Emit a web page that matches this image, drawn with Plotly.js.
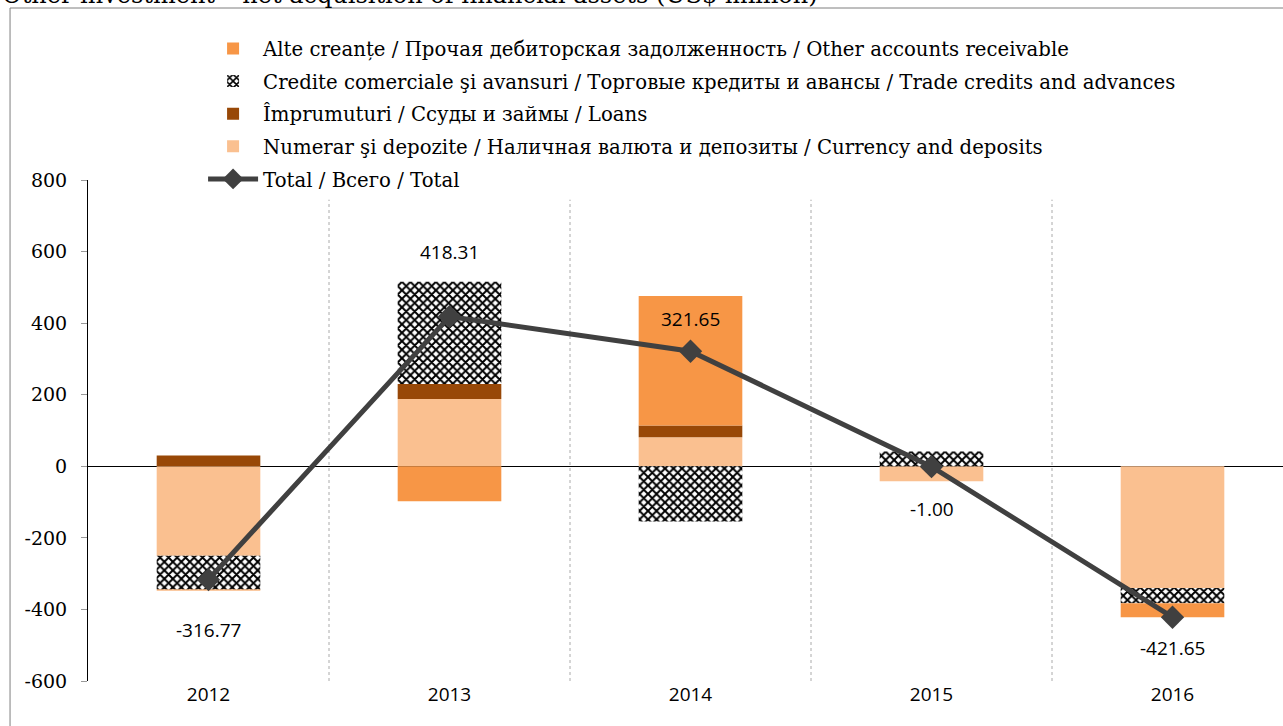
<!DOCTYPE html>
<html>
<head>
<meta charset="utf-8">
<script src="https://cdn.plot.ly/plotly-3.0.1.min.js"></script>
<style>
html,body{margin:0;padding:0;overflow:hidden;background:#fff;}
#chart{width:1300px;height:726px;}
</style>
</head>
<body>
<div id="chart"></div>
<script>
// ---- data ----
const years = ['2012', '2013', '2014', '2015', '2016'];
const currencyDeposits = [-250, 188, 81, -42, -340];
const loans = [30, 42, 33, 0, 0];
const tradeCredits = [-94, 286, -154, 41, -43];
const otherReceivable = [-3, -98, 362, 0, -39];
const total = [-316.77, 418.31, 321.65, -1.00, -421.65];
const totalLabels = ['-316.77', '418.31', '321.65', '-1.00', '-421.65'];
const tickVals = [-600, -400, -200, 0, 200, 400, 600, 800];

const names = {
  other: 'Alte creanțe / Прочая дебиторская задолженность / Other accounts receivable',
  trade: 'Credite comerciale şi avansuri / Торговые кредиты и авансы / Trade credits and advances',
  loans: 'Împrumuturi / Ссуды и займы / Loans',
  currency: 'Numerar şi depozite / Наличная валюта и депозиты / Currency and deposits',
  total: 'Total / Всего / Total'
};
const titleText = 'Other investment – net acquisition of financial assets (US$ million)';

// ---- styling ----
const labelShift = [-50, 65, 32, -42, -31];
const serif = 'DejaVu Serif, serif';
const sans = 'Open Sans, sans-serif';

const traces = [
  {type:'bar', x:years, y:currencyDeposits, name:names.currency, legendrank:4, legendgroup:'g4',
   marker:{color:'#FAC090'}, hoverinfo:'y'},
  {type:'bar', x:years, y:loans, name:names.loans, legendrank:3, legendgroup:'g3',
   marker:{color:'#984807'}, hoverinfo:'y'},
  {type:'bar', x:years, y:tradeCredits, name:names.trade, legendrank:2, legendgroup:'g2',
   marker:{color:'#ffffff', pattern:{shape:'x', fgcolor:'#000000', bgcolor:'#ffffff', size:6, solidity:0.55}},
   hoverinfo:'y'},
  {type:'bar', x:years, y:otherReceivable, name:names.other, legendrank:1, legendgroup:'g1',
   marker:{color:'#F79646'}, hoverinfo:'y'},
  {type:'scatter', mode:'lines+markers', x:years, y:total, name:names.total, legendrank:5, legendgroup:'g5',
   line:{color:'#404040', width:5}, marker:{symbol:'diamond', size:18, color:'#404040'}}
];

const annotations = years.map((yr, i) => ({
  x: i, y: total[i], xref:'x', yref:'y', text: totalLabels[i], showarrow:false,
  yshift: labelShift[i], font:{family:sans, size:19, color:'#000'}
}));
annotations.push({
  xref:'paper', yref:'paper', x:-0.073, y:1.338, xanchor:'left', yanchor:'bottom',
  text:titleText, showarrow:false, font:{family:serif, size:24, color:'#000'}
});

const shapes = [0.5, 1.5, 2.5, 3.5].map(v => ({
  type:'line', xref:'x', yref:'y', x0:v, x1:v, y0:-600, y1:745,
  line:{color:'#aaaaaa', width:1, dash:'dot'}, layer:'below'
}));
shapes.push({
  type:'rect', xref:'paper', yref:'paper', x0:-0.0647, x1:1.2, y0:-0.5, y1:1.3433,
  line:{color:'#7f7f7f', width:1}, fillcolor:'rgba(0,0,0,0)'
});

const layout = {
  width:1300, height:726,
  margin:{l:88, r:7, t:180, b:45},
  paper_bgcolor:'#ffffff', plot_bgcolor:'#ffffff',
  barmode:'relative', bargap:0.57,
  showlegend:true,
  legend:{x:0.0955, y:1.301, xanchor:'left', yanchor:'top', bgcolor:'rgba(0,0,0,0)',
          font:{family:serif, size:19.7, color:'#000'}, tracegroupgap:4, itemwidth:50},
  xaxis:{type:'category', range:[-0.5, 4.5], showgrid:false, showline:false, ticks:'', zeroline:false,
         tickfont:{family:sans, size:19, color:'#000'}, fixedrange:true},
  yaxis:{range:[-600, 800], tickvals:tickVals, ticktext:tickVals.map(String), showgrid:false,
         showline:true, linecolor:'#000', linewidth:1, ticks:'outside', ticklen:6, tickcolor:'#999',
         ticklabelstandoff:10,
         zeroline:true, zerolinecolor:'#000', zerolinewidth:1.3,
         tickfont:{family:serif, size:19, color:'#000'}, fixedrange:true},
  annotations:annotations,
  shapes:shapes
};

Plotly.newPlot('chart', traces, layout, {displayModeBar:false, staticPlot:true});
</script>
</body>
</html>
